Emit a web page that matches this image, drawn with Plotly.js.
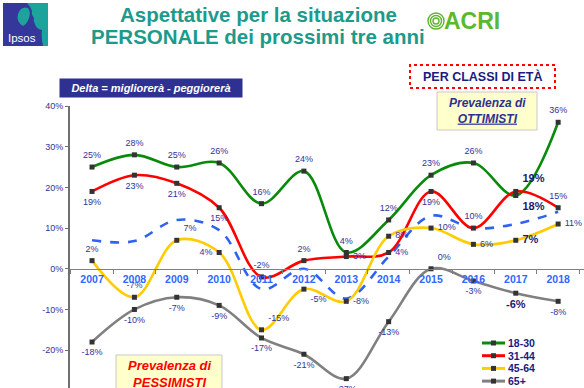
<!DOCTYPE html>
<html><head><meta charset="utf-8">
<script src="https://cdn.plot.ly/plotly-3.0.1.min.js"></script>
<style>html,body{margin:0;padding:0;background:#fff;overflow:hidden}#chart{width:584px;height:388px}</style>
</head><body><div id="chart"></div>
<script>
// ---- data ----
const years = [2007,2008,2009,2010,2011,2012,2013,2014,2015,2016,2017,2018];
const yearLabels = ['2007','2008','2009','2010','2011','2012','2013','2014','2015','2016','2017','2018'];
const seriesNames = ['18-30','31-44','45-64','65+'];
const v1830 = [25,28,25,26,16,24,4,12,23,26,18,36];
const v3144 = [19,23,21,15,-2,2,3,4,19,10,19,15];
const v4564 = [2,-7,7,4,-15,-5,-8,8,10,6,7,11];
const v65   = [-18,-10,-7,-9,-17,-21,-27,-13,0,-3,-6,-8];
const vTotal = [7,6.8,12,9.5,-5,0,-7.3,3,13,10,11,14];
const yTickVals = [-20,-10,0,10,20,30,40];
const yTickText = ['-20%','-10%','0%','10%','20%','30%','40%'];

// ---- layout helpers ----
const W=584,H=388,ML=70,MR=0,MT=106,MB=0;
const px = x => (x-ML)/(W-ML-MR);
const py = y => (H-MB-y)/(H-MT-MB);
const YR=[-29.3,40];
const FONT='Arial, "Liberation Sans", sans-serif';
const navy='#2e3192', lbl='#333399';

const colors=['#0a8a0a','#ff0000','#ffcc00','#808080'];
const values=[v1830,v3144,v4564,v65];
const T='top center',B='bottom center',R='middle right',L='middle left',TR='top right',BR='bottom right';
const textPos=[
  [T,T,T,T,T,T,T,T,T,T,BR,T],
  [B,B,B,B,T,T,R,R,B,T,TR,T],
  [T,T,TR,L,TR,BR,R,R,R,R,R,R],
  [B,B,B,B,B,B,B,B,TR,B,B,B]
];
const boldIdx=10; // 2017 labels drawn bold in the reference

const traces=[];
traces.push({x:years,y:vTotal,type:'scatter',mode:'lines',showlegend:false,
  line:{color:'#2f62f0',width:2.6,dash:'dash',shape:'spline',smoothing:1},hoverinfo:'skip'});
values.forEach((v,i)=>{
  traces.push({x:years,y:v,type:'scatter',mode:'lines+markers',name:seriesNames[i],showlegend:false,
    line:{color:colors[i],width:2.6,shape:'spline',smoothing:1},
    marker:{symbol:'square',size:5,color:'#333333'}});
});
values.forEach((v,i)=>{
  traces.push({x:years,y:v,type:'scatter',mode:'markers+text',showlegend:false,cliponaxis:false,
    marker:{size:9,opacity:0},
    text:v.map((d,j)=> j===boldIdx ? '<b>'+d+'%</b>' : d+'%'),
    textposition:textPos[i],
    textfont:{family:FONT,size:v.map((d,j)=> j===boldIdx?11:9),color:v.map((d,j)=> j===boldIdx?'#1a1a70':lbl)},
    hoverinfo:'skip'});
});

const shapes=[], ann=[];
// Ipsos logo
shapes.push({type:'rect',xref:'paper',yref:'paper',x0:px(3),x1:px(48),y0:py(46),y1:py(3),fillcolor:'#35389a',line:{width:0}});
shapes.push({type:'path',xref:'paper',yref:'paper',
  path:`M ${px(27)} ${py(3)} L ${px(48)} ${py(3)} L ${px(48)} ${py(46)} L ${px(43)} ${py(46)} Q ${px(41)} ${py(36)} ${px(42)} ${py(30)} Q ${px(36)} ${py(29)} ${px(35)} ${py(24)} Q ${px(33)} ${py(21)} ${px(34)} ${py(18)} Q ${px(31)} ${py(14)} ${px(32)} ${py(11)} Q ${px(30)} ${py(6)} ${px(27)} ${py(3)} Z`,
  fillcolor:'#1ba39c',line:{width:0}});
shapes.push({type:'path',xref:'paper',yref:'paper',
  path:`M ${px(23)} ${py(26)} Q ${px(16)} ${py(22)} ${px(18)} ${py(14)} Q ${px(21)} ${py(6)} ${px(28)} ${py(8)} Q ${px(31)} ${py(12)} ${px(29)} ${py(18)} Q ${px(27)} ${py(24)} ${px(23)} ${py(26)} Z`,
  fillcolor:'#1ba39c',line:{width:0}});
ann.push({xref:'paper',yref:'paper',x:px(22),y:py(38),text:'Ipsos',showarrow:false,font:{family:FONT,size:11.5,color:'#ffffff'},xanchor:'center',yanchor:'middle'});
// title
ann.push({xref:'paper',yref:'paper',x:px(258),y:py(15),text:'Aspettative per la situazione',showarrow:false,xanchor:'center',yanchor:'middle',font:{family:FONT,size:20.5,color:'#1c9a8b',weight:'bold'}});
ann.push({xref:'paper',yref:'paper',x:px(258),y:py(37),text:'PERSONALE dei prossimi tre anni',showarrow:false,xanchor:'center',yanchor:'middle',font:{family:FONT,size:20.5,color:'#1c9a8b',weight:'bold'}});
// ACRI logo
[8,5.5,3].forEach(r=>shapes.push({type:'circle',xref:'paper',yref:'paper',x0:px(436-r),x1:px(436+r),y0:py(21+r),y1:py(21-r),line:{color:'#5cb531',width:1.4}}));
ann.push({xref:'paper',yref:'paper',x:px(442),y:py(21),text:'ACRI',showarrow:false,xanchor:'left',yanchor:'middle',font:{family:FONT,size:23,color:'#5cb82e',weight:'bold'}});
// Delta box
ann.push({xref:'paper',yref:'paper',x:px(151),y:py(88),text:'<b><i>Delta = migliorerà - peggiorerà</i></b>',showarrow:false,xanchor:'center',yanchor:'middle',
  font:{family:FONT,size:11,color:'#ffffff'},bgcolor:navy,width:178,height:14,borderpad:2});
// PER CLASSI DI ETÀ
shapes.push({type:'rect',xref:'paper',yref:'paper',x0:px(410),x1:px(555),y0:py(88),y1:py(65),fillcolor:'#ffffff',line:{color:'#ff0000',width:2,dash:'dot'}});
ann.push({xref:'paper',yref:'paper',x:px(482),y:py(76.5),text:'<b>PER CLASSI DI ETÀ</b>',showarrow:false,xanchor:'center',yanchor:'middle',font:{family:FONT,size:12.5,color:'#1a1a80'}});
// Ottimisti box
shapes.push({type:'rect',xref:'paper',yref:'paper',x0:px(437),x1:px(537),y0:py(130),y1:py(92),fillcolor:'#ffffcc',line:{color:'#c8c8c8',width:1}});
ann.push({xref:'paper',yref:'paper',x:px(487),y:py(111),text:'<b><i>Prevalenza di<br><span style="text-decoration:underline">OTTIMISTI</span></i></b>',showarrow:false,xanchor:'center',yanchor:'middle',font:{family:FONT,size:12,color:navy}});
// Pessimisti box
shapes.push({type:'rect',xref:'paper',yref:'paper',x0:px(116),x1:px(222),y0:py(396),y1:py(355),fillcolor:'#ffffcc',line:{color:'#c8c8c8',width:1}});
ann.push({xref:'paper',yref:'paper',x:px(169),y:py(374),text:'<b><i>Prevalenza di<br>PESSIMISTI</i></b>',showarrow:false,xanchor:'center',yanchor:'middle',font:{family:FONT,size:13,color:'#ff0000'}});
// manual legend built from series arrays
seriesNames.forEach((n,i)=>{
  const yy=343+12.7*i;
  shapes.push({type:'line',xref:'paper',yref:'paper',x0:px(482),x1:px(505),y0:py(yy),y1:py(yy),line:{color:colors[i],width:3}});
  shapes.push({type:'rect',xref:'paper',yref:'paper',x0:px(491),x1:px(496),y0:py(yy+2.5),y1:py(yy-2.5),fillcolor:'#333333',line:{width:0}});
  ann.push({xref:'paper',yref:'paper',x:px(506),y:py(yy),text:'<b>'+n+'</b>',showarrow:false,xanchor:'left',yanchor:'middle',font:{family:FONT,size:10.5,color:'#1a1a80'}});
});

const zeroPos=(0-YR[0])/(YR[1]-YR[0]);
const layout={
  width:W,height:H,margin:{l:ML,r:MR,t:MT,b:MB,pad:0},
  paper_bgcolor:'#ffffff',plot_bgcolor:'#ffffff',showlegend:false,
  font:{family:FONT},
  xaxis:{range:[2006.48,2018.61],anchor:'free',position:zeroPos,tickmode:'array',tickvals:years,ticktext:yearLabels,
    ticks:'',showgrid:false,zeroline:false,showline:true,linecolor:'#808080',linewidth:1.5,
    tickfont:{family:FONT,size:10.5,color:'#3366ff',weight:'bold'},
    minor:{tick0:2006.5,dtick:1,ticks:'outside',ticklen:4,tickcolor:'#808080',showgrid:false}},
  yaxis:{range:YR,tickmode:'array',tickvals:yTickVals,ticktext:yTickText,showgrid:false,zeroline:false,
    showline:true,linecolor:'#707070',linewidth:2,ticks:'outside',ticklen:3,tickcolor:'#707070',
    tickfont:{family:FONT,size:9,color:lbl}},
  shapes:shapes,annotations:ann
};
Plotly.newPlot('chart',traces,layout,{staticPlot:true,displayModeBar:false});
</script></body></html>
